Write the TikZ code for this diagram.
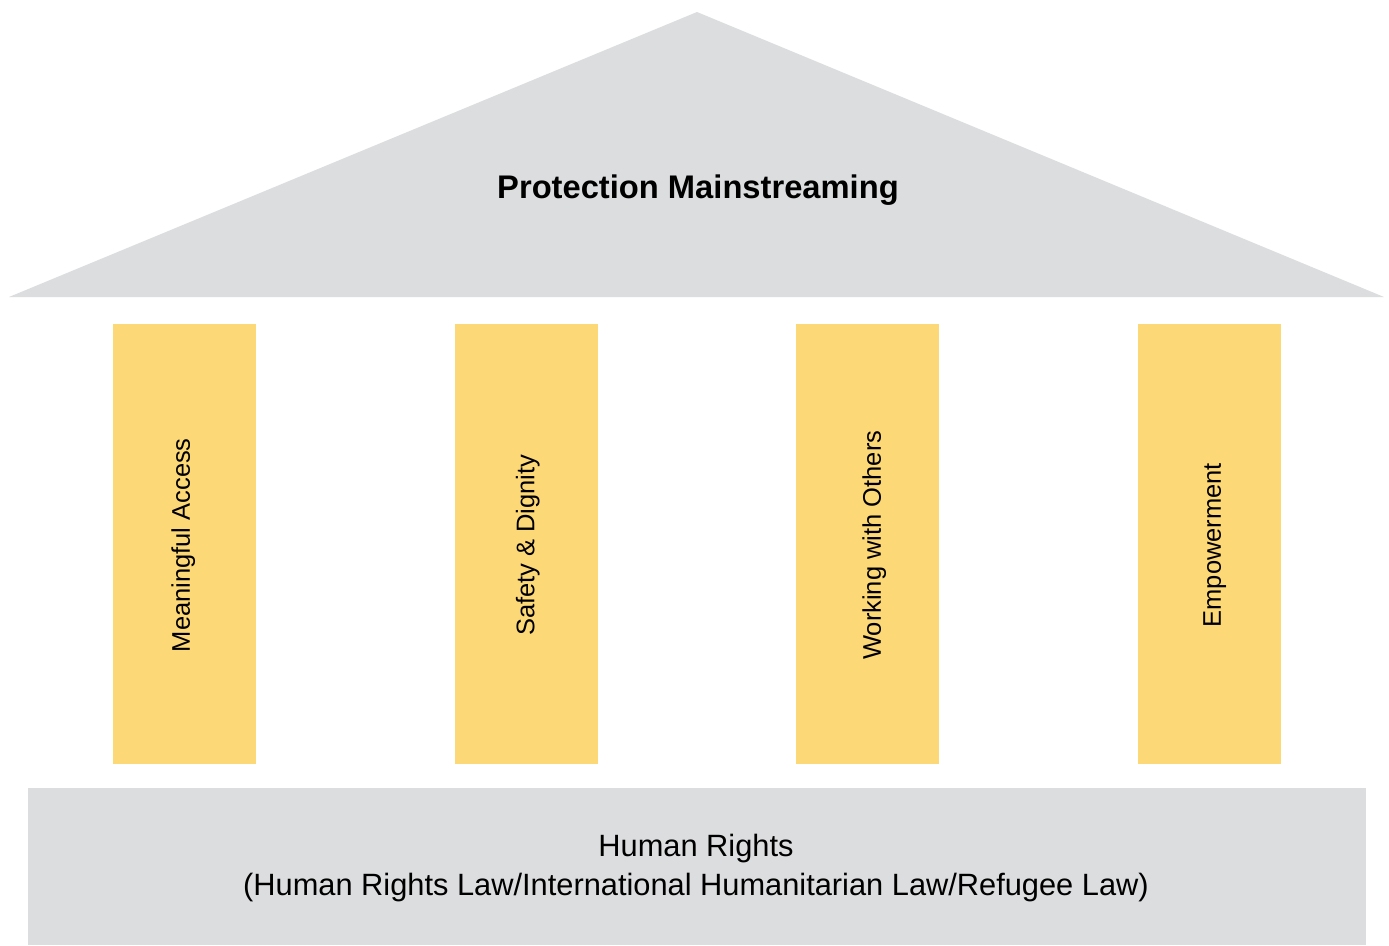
\documentclass[tikz,border=0pt]{standalone}
\usepackage{fontspec}
\setmainfont{Liberation Sans}
\definecolor{roofgray}{HTML}{DCDDDF}
\definecolor{pillaryellow}{HTML}{FDD877}
\begin{document}
\begin{tikzpicture}[x=1pt,y=-1pt,
  pillar/.style={fill=pillaryellow,draw=none,minimum width=143pt,minimum height=440pt,inner sep=0pt,anchor=north west},
  pillartext/.style={rotate=90,font=\fontsize{25.5}{30}\selectfont},
]
\useasboundingbox (0,0) rectangle (1389,945);
\fill[white] (0,0) rectangle (1389,945);
% roof
\coordinate (apex) at (697,12);
\coordinate (roofL) at (9,297);
\coordinate (roofR) at (1384,297);
\fill[roofgray] (apex) -- (roofR) -- (roofL) -- cycle;
\node[font=\fontsize{32.7}{38}\selectfont\bfseries] (roof) at (698,190) {Protection Mainstreaming};
% pillars
\node[pillar] (p1) at (113,324) {};
\node[pillar] (p2) at (455,324) {};
\node[pillar] (p3) at (796,324) {};
\node[pillar] (p4) at (1138,324) {};
\node[pillartext] (t1) at ([xshift=-1.5pt,yshift=-1pt]p1.center) {Meaningful Access};
\node[pillartext] (t2) at ([xshift=1pt,yshift=-1pt]p2.center) {Safety \& Dignity};
\node[pillartext] (t3) at ([xshift=6.5pt,yshift=-1pt]p3.center) {Working with Others};
\node[pillartext] (t4) at ([xshift=5pt,yshift=-1pt]p4.center) {Empowerment};
% base
\fill[roofgray] (28,788) rectangle (1366,945);
\node[align=center,font=\fontsize{30.8}{39}\selectfont] (base) at (696,868) {Human Rights\\(Human Rights Law/International Humanitarian Law/Refugee Law)};
\end{tikzpicture}
\end{document}
